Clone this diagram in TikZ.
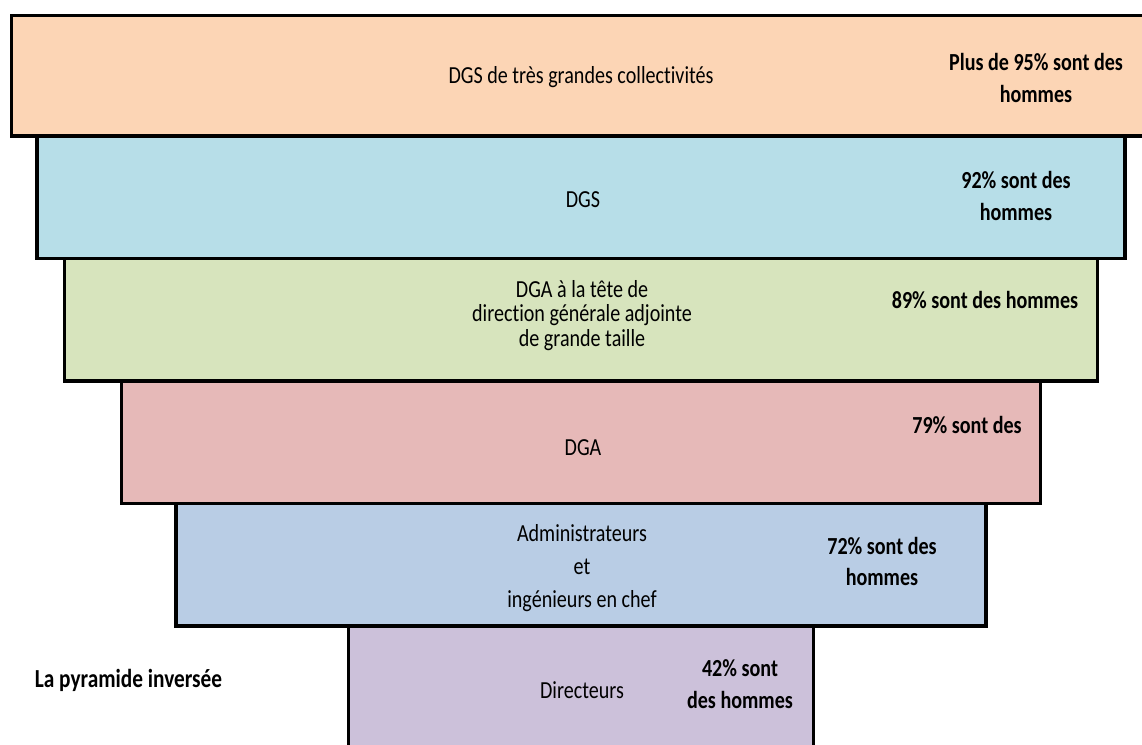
\documentclass[tikz,border=0pt]{standalone}
\usepackage{fontspec}
\setmainfont{Carlito}[FakeStretch=0.82, Ligatures=NoCommon]
\usetikzlibrary{positioning}

\definecolor{peach}{HTML}{FCD5B5}
\definecolor{skyblue}{HTML}{B7DEE8}
\definecolor{sage}{HTML}{D7E4BD}
\definecolor{rose}{HTML}{E6B9B8}
\definecolor{steel}{HTML}{B9CDE5}
\definecolor{lilac}{HTML}{CCC1DA}

\begin{document}
\begin{tikzpicture}[x=1pt, y=-1pt, node distance=0pt,
		lvl/.style={draw, line width=3.5pt, inner sep=0pt, outer sep=0pt, minimum height=122.5pt},
		lbl/.style={align=center, inner sep=0pt, font=\fontsize{24.5}{#1}\selectfont},
		lbl/.default=24.5,
		pct/.style={align=center, inner sep=0pt, font=\fontsize{24.5}{#1}\selectfont\bfseries},
		pct/.default=32]
		\useasboundingbox (0,0) rectangle (1142,744);
		\clip (0,0) rectangle (1142,744);

		% the levels, from the top down
		\node[lvl, fill=peach, minimum width=1139pt, minimum height=120.5pt] (L1) at (581,75.75) {};
		\node[lvl, fill=skyblue, minimum width=1088pt, below=of L1] (L2) {};
		\node[lvl, fill=sage, minimum width=1033pt, below=of L2] (L3) {};
		\node[lvl, fill=rose, minimum width=919pt, below=of L3] (L4) {};
		\node[lvl, fill=steel, minimum width=810pt, below=of L4] (L5) {};
		\node[lvl, fill=lilac, minimum width=465pt, minimum height=140pt, below=of L5] (L6) {};

		% titles of the levels
		\node[lbl] (L1_label) at (581,77) {DGS de très grandes collectivités};
		\node[lbl] (L2_label) at (583,200) {DGS};
		\node[lbl] (L3_label) at (582,315.5) {DGA à la tête de\\direction générale adjointe\\de grande taille};
		\node[lbl] (L4_label) at (583,448) {DGA};
		\node[lbl=33] (L5_label) at (582,568) {Administrateurs\\et\\ingénieurs en chef};
		\node[lbl] (L6_label) at (582,690) {Directeurs};

		% shares of men
		\node[pct] (L1_share) at (1036,78) {Plus de 95\% sont des\\hommes};
		\node[pct] (L2_share) at (1016,196) {92\% sont des\\hommes};
		\node[pct] (L3_share) at (985,300) {89\% sont des hommes};
		\node[pct] (L4_share) at (967,425) {79\% sont des};
		\node[pct=31] (L5_share) at (882,561.5) {72\% sont des\\hommes};
		\node[pct] (L6_share) at (740,684) {42\% sont\\des hommes};

		\node[pct, font=\fontsize{26}{30}\selectfont\bfseries] (title) at (128.5,680.5) {La pyramide inversée};
	\end{tikzpicture}
\end{document}
